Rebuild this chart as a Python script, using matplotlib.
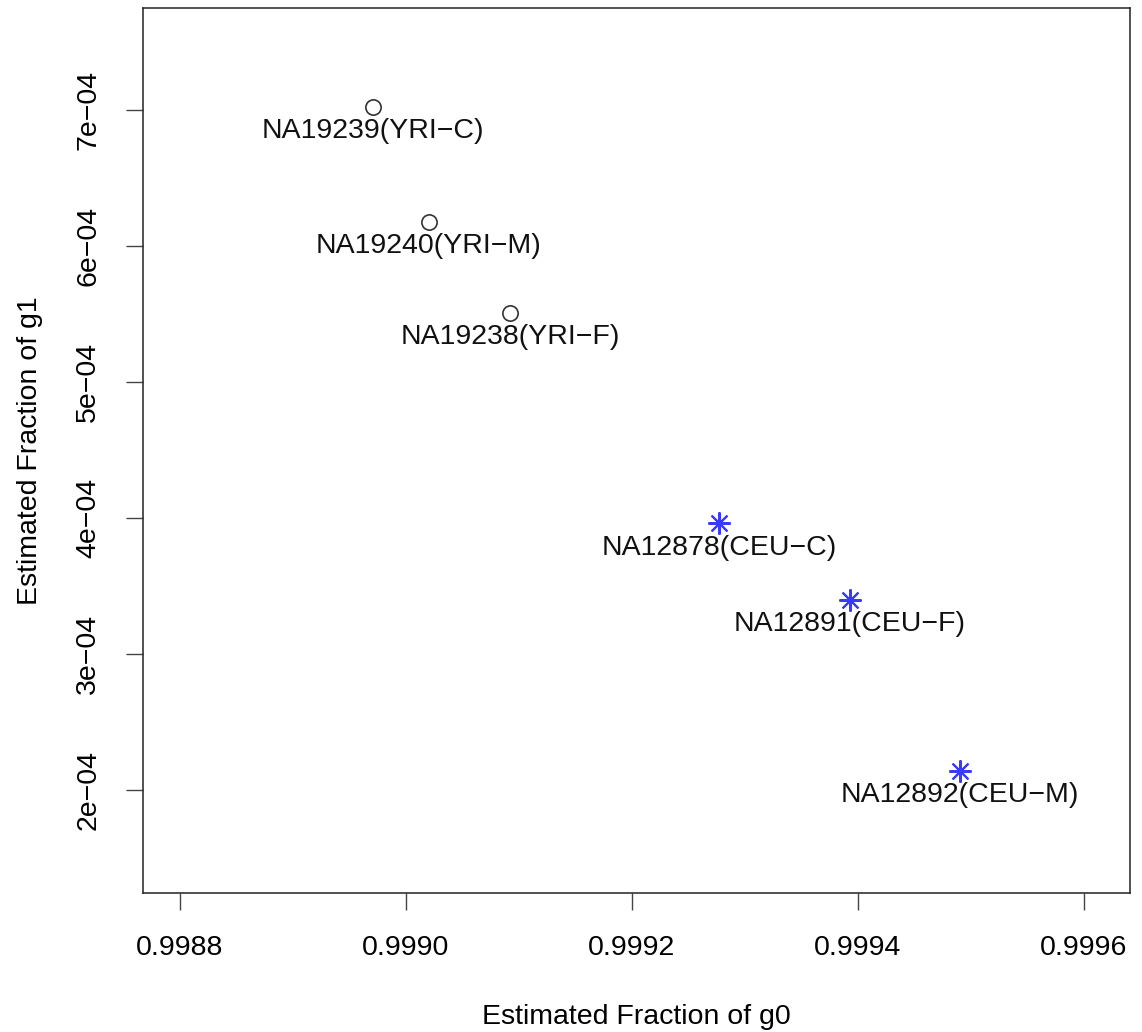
import matplotlib
matplotlib.use('Agg')
import matplotlib.pyplot as plt
from matplotlib.ticker import FuncFormatter

plt.rcParams['font.family'] = ['Liberation Sans', 'DejaVu Sans']

# estimated fractions per sample
yri_names = ["NA19239(YRI\u2212C)", "NA19240(YRI\u2212M)", "NA19238(YRI\u2212F)"]
yri_g0 = [0.998971, 0.999020, 0.999092]
yri_g1 = [7.02e-4, 6.18e-4, 5.51e-4]

ceu_names = ["NA12878(CEU\u2212C)", "NA12891(CEU\u2212F)", "NA12892(CEU\u2212M)"]
ceu_g0 = [0.999277, 0.999393, 0.999490]
ceu_g1 = [3.96e-4, 3.40e-4, 2.14e-4]

xticks = [0.9988, 0.9990, 0.9992, 0.9994, 0.9996]
yticks = [2e-4, 3e-4, 4e-4, 5e-4, 6e-4, 7e-4]

fs = 20.5
fig = plt.figure(figsize=(11.42, 10.32), dpi=100)
ax = fig.add_axes([0.1252, 0.1347, 0.9895 - 0.1252, 0.9922 - 0.1347])

ax.plot(yri_g0, yri_g1, 'o', mfc='none', mec='#333333', ms=11, mew=1.2, ls='none')
ax.plot(ceu_g0, ceu_g1, marker=(8, 2, 0), color='#3a3aff', ms=16, mew=1.5, ls='none')

for names, xs, ys in [(yri_names, yri_g0, yri_g1), (ceu_names, ceu_g0, ceu_g1)]:
    for n, x, y in zip(names, xs, ys):
        ax.annotate(n, (x, y), textcoords='offset points', xytext=(0, -8),
                    ha='center', va='top', fontsize=fs, color='#111111')

ax.set_xlim(0.9987673, 0.9996407)
ax.set_ylim(1.243e-4, 7.75e-4)
ax.set_xticks(xticks)
ax.set_yticks(yticks)
ax.xaxis.set_major_formatter(FuncFormatter(lambda v, p: f"{v:.4f}"))
ax.yaxis.set_major_formatter(FuncFormatter(lambda v, p: f"{v:.0e}".replace('-', '\u2212')))
ax.tick_params(direction='out', length=12, width=1.0, color='#444444',
               labelsize=fs, pad=18)
for lab in ax.get_yticklabels():
    lab.set_rotation(90)
    lab.set_va('center')

for s in ax.spines.values():
    s.set_linewidth(1.1)
    s.set_color('#222222')

ax.set_xlabel("Estimated Fraction of g0", fontsize=fs, labelpad=31)
ax.set_ylabel("Estimated Fraction of g1", fontsize=fs, labelpad=23)

fig.savefig("out.png", dpi=100)
